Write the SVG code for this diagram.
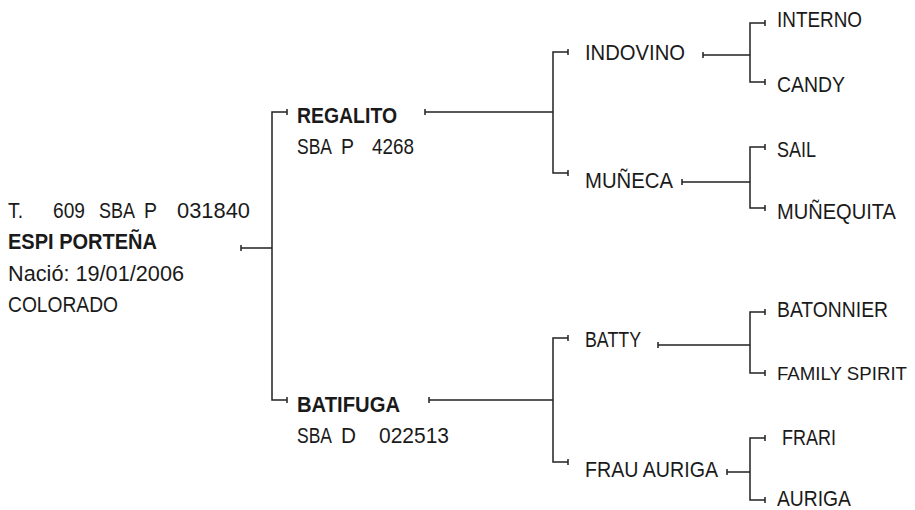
<svg xmlns="http://www.w3.org/2000/svg" width="915" height="510" viewBox="0 0 915 510">
<style>
text{font-family:"Liberation Sans",Arial,sans-serif;font-size:22px;fill:#1a1a1a}
.b{font-weight:bold}
.c{fill:none;stroke:#222;stroke-width:1.5}
</style>
<rect width="915" height="510" fill="#fff"/>
<g id="connectors" class="c">
<path d="M241,245V251M241,248H272M287,109V115M287,112H272V400H287M287,397V403"/>
<path d="M425,109V115M425,112H553M568,49V55M568,52H553V173H568M568,170V176"/>
<path d="M429,397V403M429,400H553M568,335V341M568,338H553V462H568M568,459V465"/>
<path d="M703,52V58M703,55H750M765,20V26M765,23H750V82H765M765,79V85"/>
<path d="M682,179V185M682,182H750M765,144V150M765,147H750V208H765M765,205V211"/>
<path d="M658,342V348M658,345H750M765,309V315M765,312H750V373H765M765,370V376"/>
<path d="M727,469V475M727,472H750M765,435V441M765,438H750V500H765M765,497V503"/>
</g>
<g id="espi">
<text x="8" y="218" textLength="15" lengthAdjust="spacingAndGlyphs">T.</text>
<text x="53" y="218" textLength="32" lengthAdjust="spacingAndGlyphs">609</text>
<text x="99" y="218" textLength="36" lengthAdjust="spacingAndGlyphs">SBA</text>
<text x="144" y="218" textLength="13" lengthAdjust="spacingAndGlyphs">P</text>
<text x="177" y="218" textLength="73" lengthAdjust="spacingAndGlyphs">031840</text>
<text class="b" x="8" y="249" textLength="149" lengthAdjust="spacingAndGlyphs">ESPI PORTEÑA</text>
<text x="8" y="281" textLength="176" lengthAdjust="spacingAndGlyphs">Nació: 19/01/2006</text>
<text x="8" y="312" textLength="110" lengthAdjust="spacingAndGlyphs">COLORADO</text>
</g>
<g id="regalito">
<text class="b" x="297" y="123" textLength="100" lengthAdjust="spacingAndGlyphs">REGALITO</text>
<text x="297" y="154" textLength="35" lengthAdjust="spacingAndGlyphs">SBA</text>
<text x="341" y="154" textLength="13" lengthAdjust="spacingAndGlyphs">P</text>
<text x="372" y="154" textLength="42" lengthAdjust="spacingAndGlyphs">4268</text>
</g>
<g id="batifuga">
<text class="b" x="297" y="412" textLength="103" lengthAdjust="spacingAndGlyphs">BATIFUGA</text>
<text x="297" y="443" textLength="35" lengthAdjust="spacingAndGlyphs">SBA</text>
<text x="341" y="443" textLength="15" lengthAdjust="spacingAndGlyphs">D</text>
<text x="379" y="443" textLength="70" lengthAdjust="spacingAndGlyphs">022513</text>
</g>
<g id="indovino"><text x="585" y="60" textLength="100" lengthAdjust="spacingAndGlyphs">INDOVINO</text></g>
<g id="muneca"><text x="585" y="188" textLength="88" lengthAdjust="spacingAndGlyphs">MUÑECA</text></g>
<g id="batty"><text x="585" y="347" textLength="56" lengthAdjust="spacingAndGlyphs">BATTY</text></g>
<g id="frau-auriga"><text x="585" y="477" textLength="133" lengthAdjust="spacingAndGlyphs">FRAU AURIGA</text></g>
<g id="interno"><text x="777" y="27" textLength="85" lengthAdjust="spacingAndGlyphs">INTERNO</text></g>
<g id="candy"><text x="777" y="92" textLength="68" lengthAdjust="spacingAndGlyphs">CANDY</text></g>
<g id="sail"><text x="777" y="157" textLength="39" lengthAdjust="spacingAndGlyphs">SAIL</text></g>
<g id="munequita"><text x="777" y="219" textLength="119" lengthAdjust="spacingAndGlyphs">MUÑEQUITA</text></g>
<g id="batonnier"><text x="777" y="317" textLength="111" lengthAdjust="spacingAndGlyphs">BATONNIER</text></g>
<g id="family-spirit"><text x="777" y="380" style="font-size:18.5px" textLength="130" lengthAdjust="spacingAndGlyphs">FAMILY SPIRIT</text></g>
<g id="frari"><text x="782" y="445" textLength="54" lengthAdjust="spacingAndGlyphs">FRARI</text></g>
<g id="auriga"><text x="777" y="506" textLength="74" lengthAdjust="spacingAndGlyphs">AURIGA</text></g>
</svg>
